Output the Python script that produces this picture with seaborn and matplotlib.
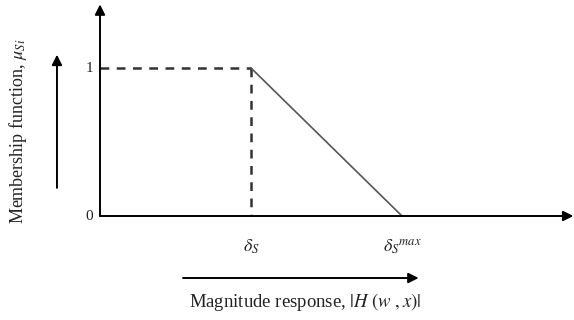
import matplotlib
matplotlib.use("Agg")
import matplotlib.pyplot as plt
import seaborn as sns
import pandas as pd

# Data: trapezoidal membership function (right shoulder)
x_points = [0.0, 1.0, 2.0]          # 0, delta_S, delta_S^max
membership = [1.0, 1.0, 0.0]
y_ticks = [0, 1]
y_tick_labels = ["0", "1"]
x_tick_labels = [r"$\delta_S$", r"$\delta_S{}^{max}$"]
x_label = r"Magnitude response, $|H\ (w\ ,x)|$"
y_label = r"Membership function, $\mu_{Si}$"

sns.set_theme(style="white")
plt.rcParams["font.family"] = ["Liberation Serif", "DejaVu Serif"]
plt.rcParams["mathtext.fontset"] = "stix"

fig = plt.figure(figsize=(5.74, 3.2), dpi=100)
ax = fig.add_axes([0, 0, 1, 1])
ax.set_xlim(-100 / 151, 474 / 151)
ax.set_ylim(-104 / 148, 216 / 148)
ax.axis("off")

# Dashed guide lines
dash_h = pd.DataFrame({"x": [x_points[0], x_points[1]], "y": [membership[0], membership[1]]})
dash_v = pd.DataFrame({"x": [x_points[1], x_points[1]], "y": [membership[1], 0.0]})
for d in (dash_h, dash_v):
    sns.lineplot(data=d, x="x", y="y", ax=ax, color="#333333", lw=1.8,
                 linestyle=(0, (3.5, 3)), sort=False, estimator=None, errorbar=None)
# Solid falling edge
edge = pd.DataFrame({"x": x_points[1:], "y": membership[1:]})
sns.lineplot(data=edge, x="x", y="y", ax=ax, color="#555555", lw=1.2,
             sort=False, estimator=None, errorbar=None)

arrow = dict(arrowstyle="-|>", color="black", lw=1.4, mutation_scale=15,
             shrinkA=0, shrinkB=0)
# Axes
ax.annotate("", xy=(0, 1.43), xytext=(0, 0), arrowprops=arrow)
ax.annotate("", xy=(3.135, 0), xytext=(0, 0), arrowprops=arrow)
# Side arrows
ax.annotate("", xy=(-0.285, 1.09), xytext=(-0.285, 0.19), arrowprops=arrow)
ax.annotate("", xy=(2.11, -0.419), xytext=(0.55, -0.419), arrowprops=arrow)

# Tick labels
for t, lab in zip(y_ticks, y_tick_labels):
    ax.text(-0.045, t, lab, ha="right", va="center", fontsize=11, color="#222222")
for t, lab in zip(x_points[1:], x_tick_labels):
    ax.text(t, -0.21, lab, ha="center", va="center", fontsize=13, color="#222222")

ax.text(1.36, -0.58, x_label, ha="center", va="center", fontsize=13.5, color="#222222")
ax.text(-0.545, 0.57, y_label, ha="center", va="center", rotation=90,
        fontsize=13, color="#222222")

fig.savefig("out.png", dpi=100)
